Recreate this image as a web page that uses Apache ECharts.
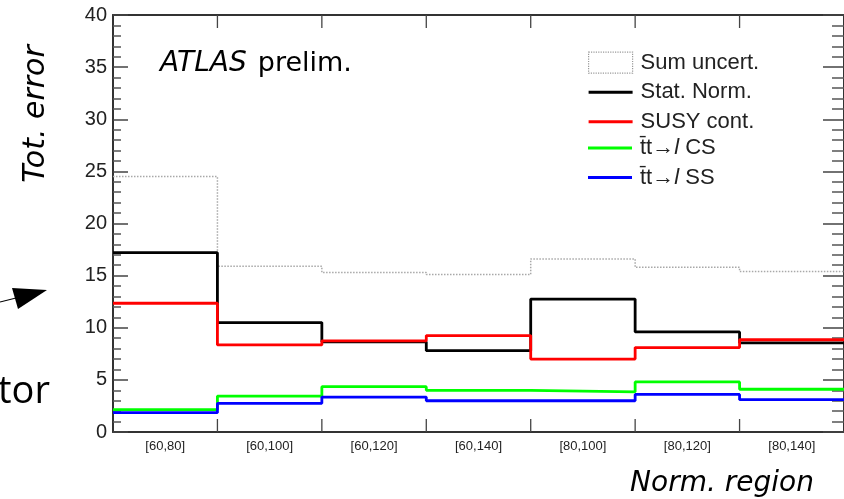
<!DOCTYPE html>
<html>
<head>
<meta charset="utf-8">
<script src="https://cdn.jsdelivr.net/npm/echarts@6/dist/echarts.min.js"></script>
<style>
  html, body { margin: 0; padding: 0; background: #fff; }
  #chart { width: 844px; height: 499px; }
</style>
</head>
<body>
<div id="chart"></div>
<script>
// Normalisation regions (one histogram bin each)
const regions = ['[60,80]', '[60,100]', '[60,120]', '[60,140]', '[80,100]', '[80,120]', '[80,140]'];

// Error contributions per region
const sumUncert = [24.5, 15.9, 15.3, 15.1, 16.6, 15.8, 15.4];
const statNorm  = [17.2, 10.5, 8.65, 7.8, 12.75, 9.6, 8.55];
const susyCont  = [12.35, 8.35, 8.75, 9.25, 7.0, 8.1, 8.85];
const ttCS      = [2.15, 3.45, 4.35, 4.0, 3.85, 4.8, 4.1];
const ttSS      = [1.85, 2.75, 3.35, 3.0, 3.0, 3.6, 3.1];

const yTicks = { min: 0, max: 40, interval: 5 };

// Histogram outline: one point at each bin's low edge, plus the closing edge
function histPoints(vals) {
  const pts = vals.map((v, i) => [i, v]);
  pts.push([vals.length, vals[vals.length - 1]]);
  return pts;
}

const chart = echarts.init(document.getElementById('chart'), null, { renderer: 'canvas' });

const axisCol = '#333';
const plotLeft = 113, plotTop = 15, plotW = 738, plotH = 417;
// Bin-edge tick length, in y units (same fraction of the frame as the drawn marks)
const edgeTickSpan = 1.25;

// Bin-edge axis (carries the histogram and draws the frame line)
const edgeAxis = (pos) => ({
  type: 'value',
  position: pos,
  min: 0, max: regions.length, interval: 1,
  axisLine: { show: true, onZero: false, lineStyle: { color: axisCol, width: 2 } },
  axisTick: { show: false },
  axisLabel: { show: false },
  splitLine: { show: false }
});

// Region names centred in each bin
const labelAxis = {
  type: 'category',
  position: 'bottom',
  data: regions,
  boundaryGap: true,
  axisLine: { show: false, onZero: false },
  axisTick: { show: false },
  axisLabel: { fontFamily: 'Liberation Sans', fontSize: 13, color: '#222', margin: 8 },
  splitLine: { show: false }
};

const valYAxis = (pos, showLabels, major, minor) => ({
  type: 'value',
  position: pos,
  min: yTicks.min, max: yTicks.max, interval: yTicks.interval,
  axisLine: { show: true, onZero: false, lineStyle: { color: axisCol, width: 2 } },
  axisTick: { show: true, inside: true, length: major, lineStyle: { color: '#444', width: 1.5 } },
  minorTick: { show: true, splitNumber: 5, length: minor, lineStyle: { color: '#555', width: 1.5 } },
  axisLabel: { show: showLabels, fontFamily: 'Liberation Sans', fontSize: 20, color: '#222', margin: 6 },
  splitLine: { show: false },
  minorSplitLine: { show: false }
});

const stepSeries = (name, vals, color, width, type) => ({
  name: name,
  type: 'line',
  xAxisIndex: 0,
  yAxisIndex: 0,
  step: 'end',
  symbol: 'none',
  data: histPoints(vals),
  lineStyle: { color: color, width: width, type: type || 'solid' },
  itemStyle: { color: color },
  emphasis: { disabled: true },
  animation: false
});

// Frame tick marks at interior bin edges, bottom and top
const edgeTickSeries = [];
for (let e = 1; e < regions.length; e++) {
  [[yTicks.min, yTicks.min + edgeTickSpan], [yTicks.max, yTicks.max - edgeTickSpan]].forEach(function (span) {
    edgeTickSeries.push({
      type: 'line',
      xAxisIndex: 0,
      yAxisIndex: 0,
      symbol: 'none',
      silent: true,
      z: 1,
      data: [[e, span[0]], [e, span[1]]],
      lineStyle: { color: '#444', width: 1.3 },
      emphasis: { disabled: true },
      animation: false
    });
  });
}

const nameSum = 'Sum uncert.', nameStat = 'Stat. Norm.', nameSusy = 'SUSY cont.';
const nameCS = 't\u0304t\u2192l CS', nameSS = 't\u0304t\u2192l SS';
const lineIcon = 'path://M0,0h44v3h-44z';

const legendText = {
  fontFamily: 'Liberation Sans', fontSize: 22, lineHeight: 21, color: '#222',
  padding: [0, 0, 0, 3],
  rich: {
    n: { fontFamily: 'Liberation Sans', fontSize: 22, lineHeight: 21, color: '#222' },
    i: { fontFamily: 'Liberation Sans', fontStyle: 'italic', fontSize: 22, lineHeight: 21, color: '#222' }
  }
};
const legendBase = {
  orient: 'vertical',
  left: 588,
  padding: 0,
  itemWidth: 44,
  itemHeight: 21,
  itemGap: 7.5,
  selectedMode: false,
  textStyle: legendText
};

const option = {
  animation: false,
  backgroundColor: '#fff',
  grid: { left: plotLeft, top: plotTop, width: plotW, height: plotH, containLabel: false },
  xAxis: [
    edgeAxis('bottom'),
    edgeAxis('top'),
    labelAxis
  ],
  yAxis: [
    valYAxis('left', true, 15, 8),
    valYAxis('right', false, 21, 12)
  ],
  legend: [
    Object.assign({}, legendBase, {
      top: 51.5,
      data: [
        { name: nameSum, icon: 'rect', itemStyle: { color: 'rgba(0,0,0,0)', borderColor: '#999', borderWidth: 1.2, borderType: 'dotted' } },
        { name: nameStat, icon: lineIcon },
        { name: nameSusy, icon: lineIcon }
      ]
    }),
    Object.assign({}, legendBase, {
      top: 137,
      formatter: function (name) {
        const k = name.indexOf('\u2192l');
        return '{n|' + name.slice(0, k + 1) + '}{i|l}{n|' + name.slice(k + 2) + '}';
      },
      data: [
        { name: nameCS, icon: lineIcon },
        { name: nameSS, icon: lineIcon }
      ]
    })
  ],
  series: edgeTickSeries.concat([
    stepSeries(nameSum, sumUncert, '#a8a8a8', 1.5, 'dotted'),
    stepSeries(nameStat, statNorm, '#000000', 2.8),
    stepSeries(nameSusy, susyCont, '#ff0000', 2.8),
    stepSeries(nameCS, ttCS, '#00ff00', 2.8),
    stepSeries(nameSS, ttSS, '#0000ff', 2.8)
  ]),
  graphic: [
    {
      type: 'text', x: 160, y: 64,
      style: {
        text: '{a|ATLAS}{b|prelim.}',
        verticalAlign: 'middle',
        rich: {
          a: { fontFamily: 'DejaVu Sans', fontStyle: 'italic', fontSize: 28, fill: '#000' },
          b: { fontFamily: 'DejaVu Sans', fontSize: 27, fill: '#000', padding: [0, 0, 0, 11] }
        }
      }
    },
    {
      type: 'text', x: 36, y: 114, rotation: Math.PI / 2,
      style: {
        text: 'Tot. error', fontFamily: 'DejaVu Sans', fontStyle: 'italic', fontSize: 30,
        fill: '#000', align: 'center', verticalAlign: 'middle'
      }
    },
    {
      type: 'text', x: 722, y: 484,
      style: {
        text: 'Norm. region', fontFamily: 'DejaVu Sans', fontStyle: 'italic', fontSize: 28,
        fill: '#000', align: 'center', verticalAlign: 'middle'
      }
    },
    {
      type: 'text', x: 50, y: 392,
      style: {
        text: 'tor', fontFamily: 'Open Sans', fontSize: 38,
        fill: '#000', align: 'right', verticalAlign: 'middle'
      }
    },
    {
      type: 'line',
      shape: { x1: 0, y1: 302, x2: 20, y2: 297 },
      style: { stroke: '#000', lineWidth: 1.2 }
    },
    {
      type: 'polygon',
      shape: { points: [[12, 288], [47, 290], [18, 309]] },
      style: { fill: '#000' }
    }
  ]
};

chart.setOption(option);
</script>
</body>
</html>
